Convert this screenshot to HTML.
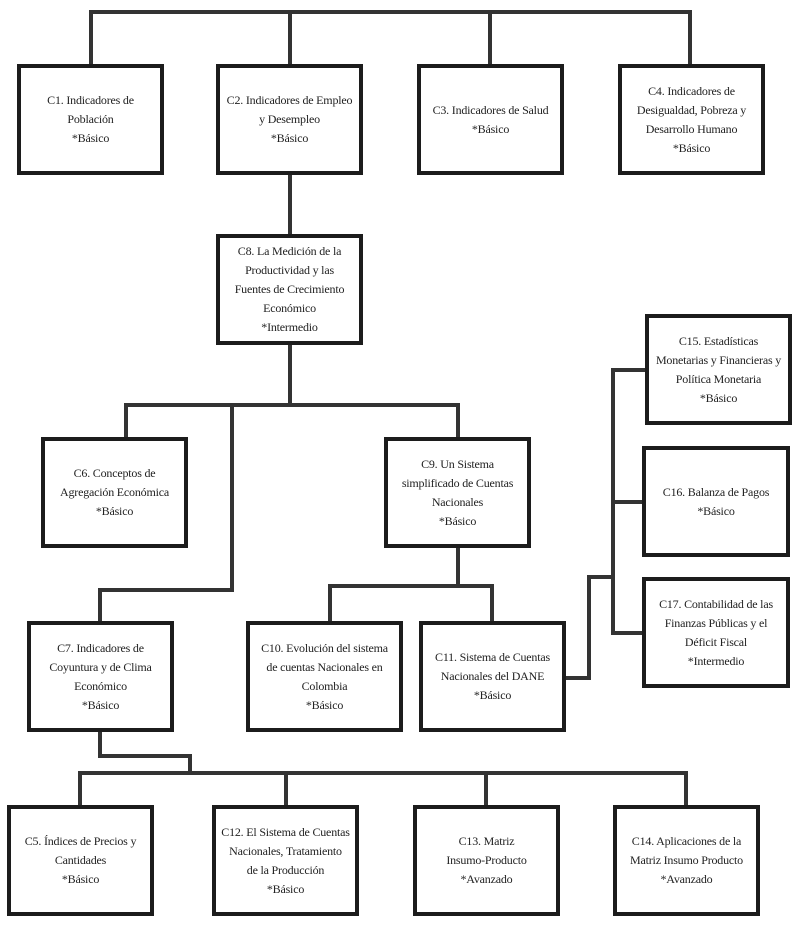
<!DOCTYPE html>
<html><head><meta charset="utf-8"><style>
body{margin:0;background:#fff;}
#c{position:relative;width:811px;height:934px;overflow:hidden;font-family:"Liberation Serif",serif;font-size:12px;letter-spacing:-0.2px;color:#222;}
.b{position:absolute;box-sizing:border-box;border:4px solid #1c1c1c;display:flex;align-items:center;justify-content:center;text-align:center;line-height:19px;padding:0;white-space:nowrap;}
.l{position:absolute;background:#333;}
</style></head><body><div id="c">
<div class="l" style="left:89px;top:10px;width:603px;height:4px"></div>
<div class="l" style="left:89px;top:10px;width:4px;height:54px"></div>
<div class="l" style="left:288px;top:10px;width:4px;height:54px"></div>
<div class="l" style="left:488px;top:10px;width:4px;height:54px"></div>
<div class="l" style="left:688px;top:10px;width:4px;height:54px"></div>
<div class="l" style="left:288px;top:175px;width:4px;height:60px"></div>
<div class="l" style="left:288px;top:343px;width:4px;height:63px"></div>
<div class="l" style="left:124px;top:403px;width:336px;height:4px"></div>
<div class="l" style="left:124px;top:403px;width:4px;height:36px"></div>
<div class="l" style="left:456px;top:403px;width:4px;height:36px"></div>
<div class="l" style="left:230px;top:403px;width:4px;height:189px"></div>
<div class="l" style="left:98px;top:588px;width:136px;height:4px"></div>
<div class="l" style="left:98px;top:588px;width:4px;height:35px"></div>
<div class="l" style="left:456px;top:546px;width:4px;height:42px"></div>
<div class="l" style="left:328px;top:584px;width:166px;height:4px"></div>
<div class="l" style="left:328px;top:584px;width:4px;height:38px"></div>
<div class="l" style="left:490px;top:584px;width:4px;height:38px"></div>
<div class="l" style="left:563px;top:676px;width:28px;height:4px"></div>
<div class="l" style="left:587px;top:575px;width:4px;height:105px"></div>
<div class="l" style="left:587px;top:575px;width:28px;height:4px"></div>
<div class="l" style="left:611px;top:368px;width:4px;height:267px"></div>
<div class="l" style="left:611px;top:368px;width:35px;height:4px"></div>
<div class="l" style="left:611px;top:500px;width:33px;height:4px"></div>
<div class="l" style="left:611px;top:631px;width:33px;height:4px"></div>
<div class="l" style="left:98px;top:730px;width:4px;height:28px"></div>
<div class="l" style="left:98px;top:754px;width:94px;height:4px"></div>
<div class="l" style="left:188px;top:754px;width:4px;height:21px"></div>
<div class="l" style="left:78px;top:771px;width:610px;height:4px"></div>
<div class="l" style="left:78px;top:771px;width:4px;height:36px"></div>
<div class="l" style="left:284px;top:771px;width:4px;height:36px"></div>
<div class="l" style="left:484px;top:771px;width:4px;height:36px"></div>
<div class="l" style="left:684px;top:771px;width:4px;height:36px"></div>
<div class="b" style="left:17px;top:64px;width:147px;height:111px">C1. Indicadores de<br>Población<br>*Básico</div>
<div class="b" style="left:216px;top:64px;width:147px;height:111px">C2. Indicadores de Empleo<br>y Desempleo<br>*Básico</div>
<div class="b" style="left:417px;top:64px;width:147px;height:111px">C3. Indicadores de Salud<br>*Básico</div>
<div class="b" style="left:618px;top:64px;width:147px;height:111px">C4. Indicadores de<br>Desigualdad, Pobreza y<br>Desarrollo Humano<br>*Básico</div>
<div class="b" style="left:216px;top:234px;width:147px;height:111px">C8. La Medición de la<br>Productividad y las<br>Fuentes de Crecimiento<br>Económico<br>*Intermedio</div>
<div class="b" style="left:41px;top:437px;width:147px;height:111px">C6. Conceptos de<br>Agregación Económica<br>*Básico</div>
<div class="b" style="left:384px;top:437px;width:147px;height:111px">C9. Un Sistema<br>simplificado de Cuentas<br>Nacionales<br>*Básico</div>
<div class="b" style="left:645px;top:314px;width:147px;height:111px">C15. Estadísticas<br>Monetarias y Financieras y<br>Política Monetaria<br>*Básico</div>
<div class="b" style="left:642px;top:446px;width:148px;height:111px">C16. Balanza de Pagos<br>*Básico</div>
<div class="b" style="left:642px;top:577px;width:148px;height:111px">C17. Contabilidad de las<br>Finanzas Públicas y el<br>Déficit Fiscal<br>*Intermedio</div>
<div class="b" style="left:27px;top:621px;width:147px;height:111px">C7. Indicadores de<br>Coyuntura y de Clima<br>Económico<br>*Básico</div>
<div class="b" style="left:246px;top:621px;width:157px;height:111px">C10. Evolución del sistema<br>de cuentas Nacionales en<br>Colombia<br>*Básico</div>
<div class="b" style="left:419px;top:621px;width:147px;height:111px">C11. Sistema de Cuentas<br>Nacionales del DANE<br>*Básico</div>
<div class="b" style="left:7px;top:805px;width:147px;height:111px">C5. Índices de Precios y<br>Cantidades<br>*Básico</div>
<div class="b" style="left:212px;top:805px;width:147px;height:111px">C12. El Sistema de Cuentas<br>Nacionales, Tratamiento<br>de la Producción<br>*Básico</div>
<div class="b" style="left:413px;top:805px;width:147px;height:111px">C13. Matriz<br>Insumo-Producto<br>*Avanzado</div>
<div class="b" style="left:613px;top:805px;width:147px;height:111px">C14. Aplicaciones de la<br>Matriz Insumo Producto<br>*Avanzado</div>
</div></body></html>
